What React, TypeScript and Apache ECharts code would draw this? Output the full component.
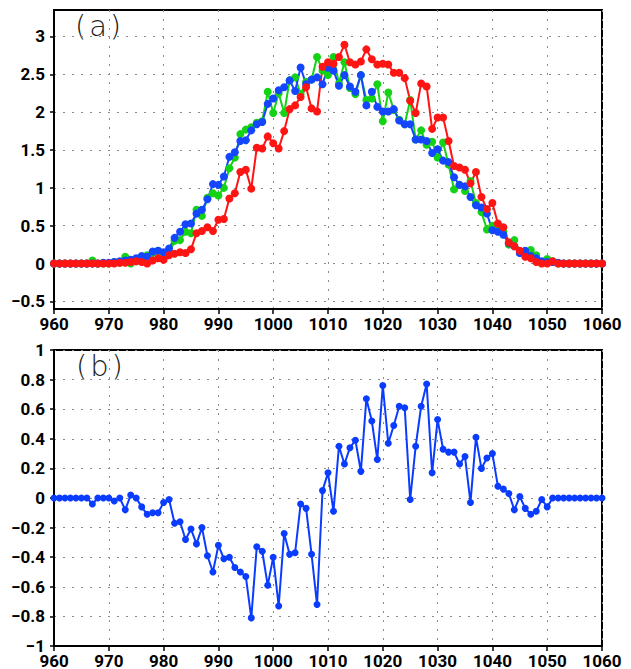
import React, { useEffect, useRef } from "react";
import * as echarts from "echarts";

const years: number[] = Array.from({ length: 101 }, (_, i) => 960 + i);

const redSeries: number[] = [
  0, 0, 0, 0, 0, 0, 0, 0, 0, 0, 0, 0,
  0.01, 0.01, 0.02, 0.03, 0.02, 0.0, 0.04, 0.07, 0.05, 0.11, 0.13, 0.15, 0.14, 0.19,
  0.4, 0.43, 0.48, 0.43, 0.58, 0.59, 0.86, 0.93, 1.21, 1.24, 0.99, 1.53, 1.52, 1.68,
  1.59, 1.52, 1.75, 2.04, 2.09, 2.2, 2.33, 2.05, 2.01, 2.6, 2.66, 2.64, 2.73, 2.89,
  2.66, 2.63, 2.67, 2.83, 2.7, 2.63, 2.64, 2.63, 2.52, 2.52, 2.45, 2.15, 1.99, 2.38,
  2.34, 1.78, 1.93, 1.93, 1.62, 1.29, 1.27, 1.24, 1.06, 1.21, 0.88, 0.72, 0.8, 0.53,
  0.48, 0.28, 0.23, 0.17, 0.09, 0.07, 0.02, 0, 0, 0.03,
  0, 0, 0, 0, 0, 0, 0, 0, 0,
];

const greenSeries: number[] = [
  0, 0, 0, 0, 0, 0, 0,
  0.04, 0, 0, 0, 0.02, 0.01, 0.09, 0.0, 0.03, 0.08, 0.11, 0.14, 0.17, 0.08, 0.12,
  0.3, 0.31, 0.42, 0.4, 0.71, 0.63, 0.87, 0.93, 0.9, 1.0, 1.26, 1.4, 1.71, 1.77,
  1.8, 1.86, 1.88, 2.27, 1.99, 2.25, 1.99, 2.42, 2.46, 2.24, 2.4, 2.43, 2.73, 2.55,
  2.49, 2.73, 2.38, 2.66, 2.32, 2.24, 2.49, 2.16, 2.18, 2.37, 1.88, 2.26, 2.03, 1.9,
  1.84, 2.16, 1.64, 1.76, 1.57, 1.61, 1.4, 1.6, 1.31, 0.98, 1.04, 0.96, 1.09, 0.8,
  0.68, 0.45, 0.5, 0.45, 0.42, 0.25, 0.31, 0.16, 0.16, 0.18, 0.11, 0.01, 0.06,
  0.03, 0, 0, 0, 0, 0, 0, 0, 0, 0,
];

const blueSeries: number[] = [
  0, 0, 0, 0, 0, 0, 0, 0, 0,
  0.01, 0.01, 0.02, 0.03, 0.04, 0.05, 0.07, 0.1, 0.09, 0.16, 0.17, 0.15, 0.2, 0.34,
  0.42, 0.52, 0.53, 0.66, 0.71, 0.85, 1.05, 1.04, 1.15, 1.41, 1.47, 1.62, 1.63, 1.76,
  1.84, 1.87, 2.11, 2.18, 2.29, 2.33, 2.42, 2.28, 2.59, 2.37, 2.43, 2.46, 2.37, 2.59,
  2.55, 2.35, 2.49, 2.34, 2.27, 2.49, 2.09, 2.27, 2.07, 2.01, 2.01, 2.04, 1.89, 1.84,
  1.84, 1.64, 1.64, 1.62, 1.46, 1.51, 1.36, 1.34, 1.14, 1.04, 1.02, 0.88, 0.77, 0.74,
  0.66, 0.44, 0.42, 0.38, 0.27, 0.23, 0.14, 0.17, 0.1, 0.07, 0.03, 0.02, 0.02, 0.01,
  0, 0, 0, 0, 0, 0, 0, 0,
];

const diffSeries: number[] = [
  0, 0, 0, 0, 0, 0, 0,
  -0.04, 0, 0, 0, -0.02, 0, -0.08, 0.02, 0, -0.06, -0.11, -0.1, -0.1, -0.03, -0.01,
  -0.17, -0.16, -0.28, -0.21, -0.31, -0.2, -0.39, -0.5, -0.32, -0.41, -0.4, -0.47,
  -0.5, -0.53, -0.81, -0.33, -0.36, -0.59, -0.4, -0.73, -0.24, -0.38, -0.37, -0.04,
  -0.07, -0.38, -0.72, 0.05, 0.17, -0.09, 0.35, 0.23, 0.34, 0.39, 0.18, 0.67, 0.52,
  0.26, 0.76, 0.37, 0.49, 0.62, 0.61, -0.01, 0.35, 0.62, 0.77, 0.17, 0.53, 0.33, 0.31,
  0.31, 0.23, 0.28, -0.03, 0.41, 0.2, 0.27, 0.3, 0.08, 0.06, 0.03, -0.08, 0.01, -0.07,
  -0.11, -0.09, -0.01, -0.06,
  0, 0, 0, 0, 0, 0, 0, 0, 0, 0,
];

const topTicks: number[] = [-0.5, 0, 0.5, 1, 1.5, 2, 2.5, 3];
const panelLabels: string[] = ["(\u200aa\u200a)", "(\u200ab\u200a)"];

const FONT = "Roboto, 'Liberation Sans', Arial, sans-serif";

const fmt = (v: number): string => {
  const r = Math.round(v * 10) / 10;
  const s = String(Math.abs(r));
  return r < 0 ? "\u2212" + s : s;
};

const pairs = (ys: number[]) => years.map((x, i) => [x, ys[i]]);

export default function App() {
  const ref = useRef<HTMLDivElement>(null);
  useEffect(() => {
    if (!ref.current) return;
    const chart = echarts.init(ref.current, null, { renderer: "svg" });
    const gridLine = { show: true, lineStyle: { color: "#8a8a8a", width: 1, type: [2, 7] as any } };
    const labelStyle = { color: "#000", fontFamily: FONT, fontSize: 17, fontWeight: 700 };
    const xAxisBase = (gridIndex: number) => ({
      type: "value" as const,
      gridIndex,
      min: 960,
      max: 1060,
      interval: 10,
      axisLine: { show: true, onZero: false, lineStyle: { color: "#000", width: 2 } },
      axisTick: { show: true, length: 5, lineStyle: { color: "#000", width: 1.5 } },
      axisLabel: { ...labelStyle, margin: 6, formatter: (v: number) => String(Math.round(v)) },
      splitLine: gridLine,
    });
    const lineSeries = (name: string, data: number[], color: string, idx: number, size: number) => ({
      name,
      type: "line" as const,
      xAxisIndex: idx,
      yAxisIndex: idx,
      data: pairs(data),
      symbol: "circle",
      symbolSize: size,
      showSymbol: true,
      lineStyle: { color, width: 2 },
      itemStyle: { color },
      silent: true,
    });
    chart.setOption({
      animation: false,
      grid: [
        { left: 54, top: 10, width: 548, height: 299, show: true, borderColor: "#000", borderWidth: 2, backgroundColor: "transparent" },
        { left: 54, top: 350, width: 548, height: 298, show: true, borderColor: "#000", borderWidth: 2, backgroundColor: "transparent" },
      ],
      xAxis: [xAxisBase(0), xAxisBase(1)],
      yAxis: [
        {
          type: "value",
          gridIndex: 0,
          min: -0.6,
          max: 3.35,
          axisLine: { show: true, onZero: false, lineStyle: { color: "#000", width: 2 } },
          axisTick: { show: true, length: 4, customValues: topTicks, lineStyle: { color: "#000", width: 1.5 } },
          axisLabel: { ...labelStyle, margin: 9, customValues: topTicks, formatter: (v: number) => fmt(v) },
          splitLine: gridLine,
        },
        {
          type: "value",
          gridIndex: 1,
          min: -1,
          max: 1,
          interval: 0.2,
          axisLine: { show: true, onZero: false, lineStyle: { color: "#000", width: 2 } },
          axisTick: { show: true, length: 4, lineStyle: { color: "#000", width: 1.5 } },
          axisLabel: { ...labelStyle, margin: 9, formatter: (v: number) => fmt(v) },
          splitLine: gridLine,
        },
      ],
      series: [
        lineSeries("green", greenSeries, "#14d214", 0, 8),
        lineSeries("blue", blueSeries, "#1446ff", 0, 8),
        lineSeries("red", redSeries, "#ff1414", 0, 8),
        lineSeries("diff", diffSeries, "#0a3cff", 1, 7),
      ],
      graphic: [
        {
          type: "text",
          left: 75,
          top: 11,
          style: { text: panelLabels[0], fill: "#222", font: "200 29px 'DejaVu Sans', sans-serif" },
        },
        {
          type: "text",
          left: 76,
          top: 351,
          style: { text: panelLabels[1], fill: "#222", font: "200 29px 'DejaVu Sans', sans-serif" },
        },
      ],
    });
    return () => chart.dispose();
  }, []);
  return (
    <div
      ref={ref}
      style={{ position: "absolute", left: 0, top: 0, width: 631, height: 669, background: "#fff" }}
    />
  );
}
